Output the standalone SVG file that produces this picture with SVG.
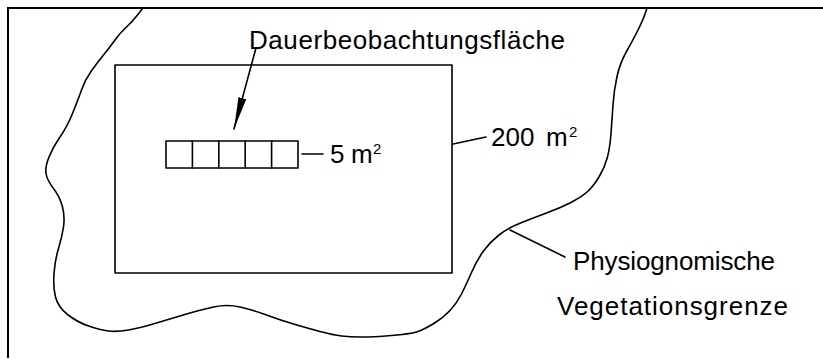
<svg xmlns="http://www.w3.org/2000/svg" width="823" height="359" viewBox="0 0 823 359">
<style>
.ln{fill:none;stroke:#000;stroke-width:1.6;stroke-linejoin:round;stroke-linecap:round}
.fr{fill:none;stroke:#000;stroke-width:2}
.tx{font-family:"Liberation Sans",Arial,sans-serif;font-size:26px;fill:#000}
.sup{font-size:15px}
</style>
<defs>
<marker id="ah" markerUnits="userSpaceOnUse" markerWidth="34" markerHeight="10" viewBox="0 -5 34 10" refX="32" refY="0" orient="auto">
<path d="M0,-4 L32,0 L0,4 Z" fill="#000"/>
</marker>
</defs>
<rect width="823" height="359" fill="#fff"/>
<g id="frame">
<path class="fr" d="M8,358 L8,8 L823,8"/>
</g>
<g id="vegetationsgrenze">
<path class="ln" d="M143,8 L137.5,15 Q132,22 126,27.5 Q120,33 115,40 Q110,47 103.5,55 Q97,63 91,71.5 Q85,80 81.5,90 Q78,100 72.5,113.5 Q67,127 60,137 Q53,147 49,157 Q45,167 46,173.5 Q47,180 53.5,188.5 Q60,197 62.5,207 Q65,217 63.5,227 Q62,237 58.5,248.5 Q55,260 54,273.5 Q53,287 55.5,297 Q58,307 67.5,314.5 Q77,322 88.5,326 Q100,330 108.5,331 Q117,332 128.5,330 Q140,328 156.5,323 Q173,318 186.5,314 Q200,310 213.5,307 Q227,304 240,307 Q253,310 266.5,315 Q280,320 293.5,324 Q307,328 320,331.5 Q333,335 341.5,336 Q350,337 361.5,337 Q373,337 391.5,335.5 Q410,334 416.5,332 Q423,330 433,324 Q443,318 450,310.5 Q457,303 461.5,294 Q466,285 471.5,272.5 Q477,260 483.5,251 Q490,242 499,235 Q508,228 520.5,223 Q533,218 546.5,213 Q560,208 570,203 Q580,198 586.5,192.5 Q593,187 599,177 Q605,167 607.5,157 Q610,147 611,133.5 Q612,120 613,105 Q614,90 617,76.5 Q620,63 626.5,51.5 Q633,40 638,30 Q643,20 645,14 L647,8"/>
</g>
<g id="flaeche200">
<rect class="ln" x="115" y="65" width="337" height="208"/>
</g>
<g id="dauerflaeche">
<rect class="ln" x="166" y="141" width="132" height="27"/>
<path class="ln" d="M192.4,141 V168 M218.8,141 V168 M245.2,141 V168 M271.6,141 V168"/>
</g>
<g id="connectors">
<path class="ln" d="M256,48 L234,129" marker-end="url(#ah)"/>
<path class="ln" d="M302,154 L323,154"/>
<path class="ln" d="M453,144 L486,137"/>
<path class="ln" d="M510,230 L565,257"/>
</g>
<g id="labels">
<text class="tx" x="249" y="49" textLength="316" lengthAdjust="spacing">Dauerbeobachtungsfläche</text>
<text class="tx"><tspan x="330" y="163">5 </tspan><tspan x="351" y="163">m</tspan><tspan class="sup" x="373" y="154">2</tspan></text>
<text class="tx"><tspan x="491" y="146">200 </tspan><tspan x="546" y="146">m</tspan><tspan class="sup" x="569" y="137">2</tspan></text>
<text class="tx" x="573" y="270" textLength="202" lengthAdjust="spacing">Physiognomische</text>
<text class="tx" x="557" y="315" textLength="231" lengthAdjust="spacing">Vegetationsgrenze</text>
</g>
</svg>
